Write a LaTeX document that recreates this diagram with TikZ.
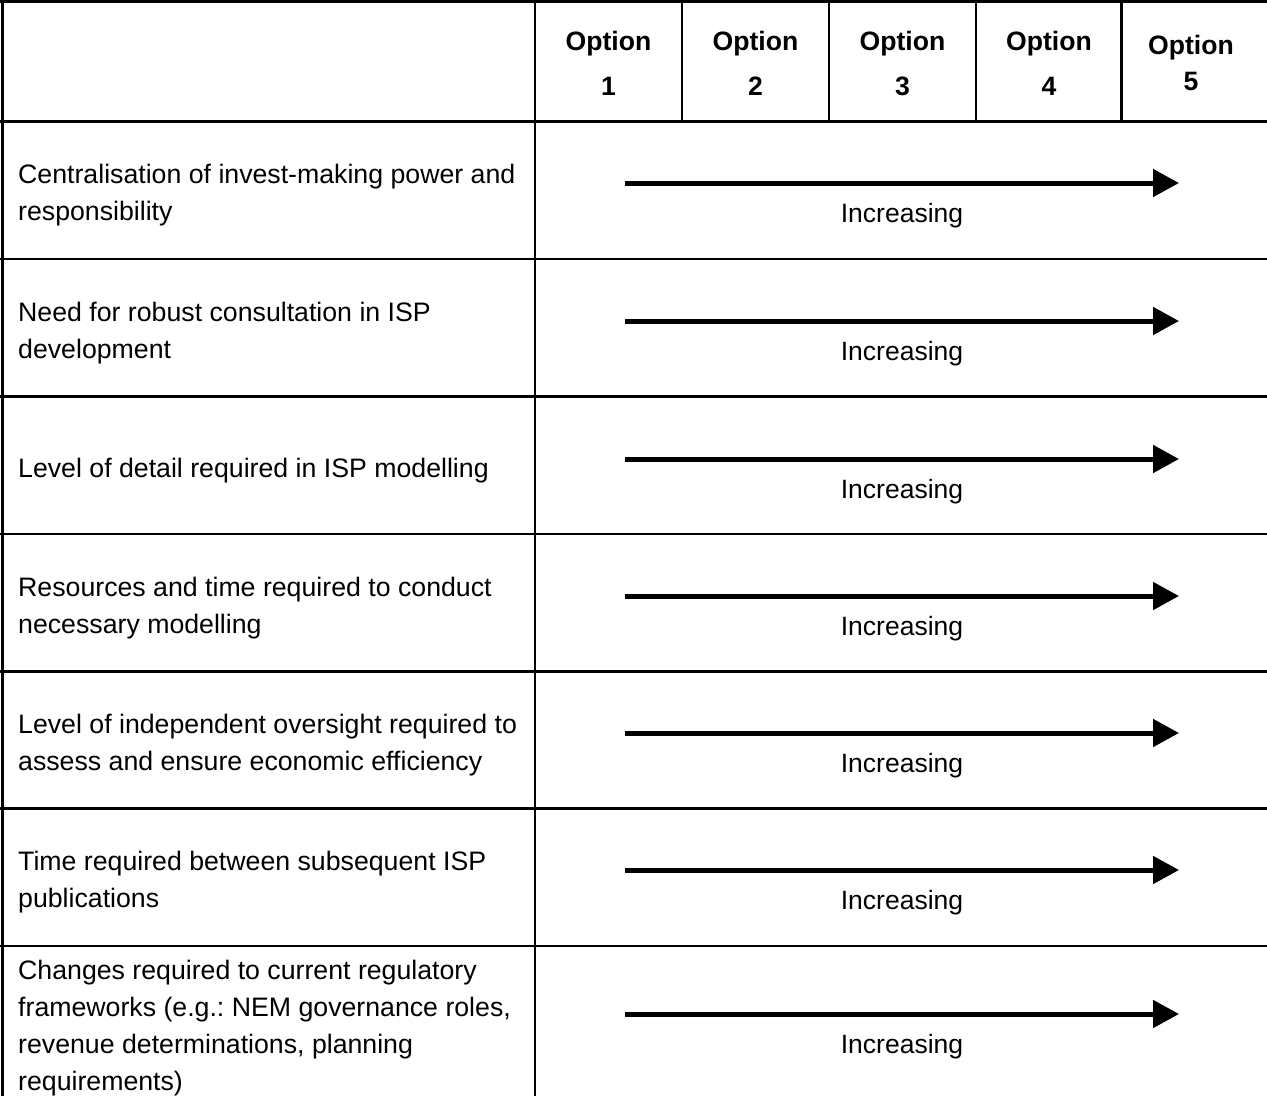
\documentclass[tikz,border=0pt]{standalone}
\usepackage{fontspec}
\setmainfont{Liberation Sans}
\usetikzlibrary{arrows.meta}
\frenchspacing
\begin{document}
\begin{tikzpicture}[x=1pt,y=-1pt,
  grid/.style={line width=2.5pt, black},
  hdr/.style={font=\fontsize{26.6}{45}\selectfont\bfseries, align=center, inner sep=0},
  hdrfive/.style={font=\fontsize{26.6}{36}\selectfont\bfseries, align=center, inner sep=0},
  lbl/.style={font=\fontsize{26.7}{37}\selectfont, align=left, anchor=west, inner sep=0},
  inc/.style={font=\fontsize{26.5}{32}\selectfont, inner sep=0},
  incarrow/.style={line width=5pt, -{Triangle[length=26pt,width=27pt]}}]
\useasboundingbox (0,0) rectangle (1267,1096);
% grid
\draw[grid] (0,1.5) -- (1267,1.5);
\draw[grid] (2.5,0) -- (2.5,1096);
\draw[grid] (535,0) -- (535,1096);
\foreach \x in {682,829,976,1121.5} \draw[grid] (\x,0) -- (\x,121.7);
\foreach \y in {121.7,259.1,396.5,533.9,671.3,808.7,946.1} \draw[grid] (0,\y) -- (1267,\y);
% header
\node[hdr] (h1) at (608.5,63.5) {Option\\1};
\node[hdr] (h2) at (755.5,63.5) {Option\\2};
\node[hdr] (h3) at (902.5,64) {Option\\3};
\node[hdr] (h4) at (1049,63.5) {Option\\4};
\node[hdrfive] (h5) at (1191,62.5) {Option\\5};
% row labels
\node[lbl] (r1) at (18,195.5) {Centralisation of invest-making power and\\responsibility};
\node[lbl] (r2) at (18,332.8) {Need for robust consultation in ISP\\development};
\node[lbl] (r3) at (18,470.2) {Level of detail required in ISP modelling};
\node[lbl] (r4) at (18,607.6) {Resources and time required to conduct\\necessary modelling};
\node[lbl] (r5) at (18,745) {Level of independent oversight required to\\assess and ensure economic efficiency};
\node[lbl] (r6) at (18,882.4) {Time required between subsequent ISP\\publications};
\node[lbl] (r7) at (18,1028) {Changes required to current regulatory\\frameworks (e.g.: NEM governance roles,\\revenue determinations, planning\\requirements)};
% arrows
\foreach \i/\ay in {1/183,2/321,3/459,4/596,5/733,6/870,7/1014}{
  \coordinate (s\i) at (625,\ay);
  \coordinate (e\i) at (1179,\ay);
  \draw[incarrow] (s\i) -- (e\i);
  \node[inc] (t\i) at (902,\ay+32.5) {Increasing};
}
\end{tikzpicture}
\end{document}
